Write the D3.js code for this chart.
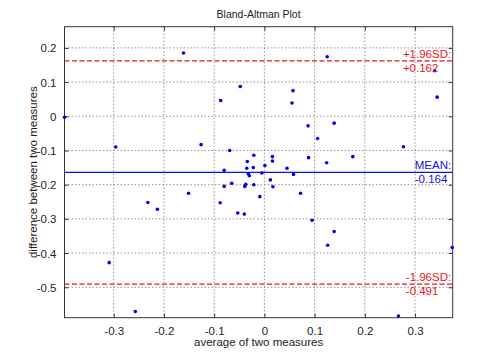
<!DOCTYPE html>
<html>
<head>
<meta charset="utf-8">
<script src="https://cdn.jsdelivr.net/npm/d3@7"></script>
<style>
  body { margin: 0; background: #fff; }
  svg { font-family: "Liberation Sans", Arial, Helvetica, sans-serif; }
</style>
</head>
<body>
<div id="chart"></div>
<script>
// average of the two measures (x) and their difference (y)
var avgValues = [
  -0.161, -0.048, -0.087, -0.398, -0.296, -0.126, -0.069, -0.021, -0.034, -0.080,
  -0.035, -0.022, -0.032, -0.030, -0.005, -0.065, -0.080, -0.037, -0.039, -0.021,
  -0.009, -0.151, -0.232, -0.213, -0.088, -0.053, -0.040, -0.309, -0.257, 0.125,
  0.339, 0.344, 0.057, 0.055, 0.087, 0.139, 0.106, 0.277, 0.001, 0.016,
  0.016, 0.045, 0.088, 0.124, 0.176, 0.058, 0.012, 0.017, 0.072, 0.095,
  0.139, 0.126, 0.374, 0.267
];
var diffValues = [
  0.185, 0.087, 0.046, -0.003, -0.090, -0.083, -0.100, -0.114, -0.132, -0.158,
  -0.152, -0.150, -0.168, -0.174, -0.166, -0.196, -0.205, -0.199, -0.205, -0.200,
  -0.235, -0.225, -0.252, -0.272, -0.253, -0.283, -0.286, -0.428, -0.571, 0.174,
  0.133, 0.056, 0.075, 0.039, -0.028, -0.020, -0.065, -0.089, -0.144, -0.118,
  -0.131, -0.152, -0.121, -0.136, -0.118, -0.170, -0.186, -0.206, -0.225, -0.304,
  -0.337, -0.377, -0.384, -0.584
];

var meanDiff = -0.164;
var upperLoA = 0.162;
var lowerLoA = -0.491;

var xTicks = [-0.3, -0.2, -0.1, 0, 0.1, 0.2, 0.3];
var yTicks = [-0.5, -0.4, -0.3, -0.2, -0.1, 0, 0.1, 0.2];

const svgDimensions = { width: 500, height: 358 };
const margins = { top: 26.7, bottom: 40.3, left: 64.5, right: 47.3 };
const fontSize = 11.5;

var svg = d3.select("#chart").append("svg")
  .attr("width", svgDimensions.width)
  .attr("height", svgDimensions.height);

var scaleX = d3.scaleLinear()
  .domain([-0.398, 0.375])
  .range([margins.left, svgDimensions.width - margins.right]);

var scaleY = d3.scaleLinear()
  .domain([-0.589, 0.262])
  .range([svgDimensions.height - margins.bottom, margins.top]);

var fmt = d => d === 0 ? "0" : d.toFixed(1);
var x0 = scaleX.range()[0], x1 = scaleX.range()[1];
var y0 = scaleY.range()[0], y1 = scaleY.range()[1];

// grid
svg.append("g").selectAll("line")
  .data(xTicks).enter().append("line")
  .attr("x1", d => scaleX(d)).attr("x2", d => scaleX(d))
  .attr("y1", y1).attr("y2", y0)
  .attr("stroke", "#777").attr("stroke-width", 0.8)
  .attr("stroke-dasharray", "1.5,2");
svg.append("g").selectAll("line")
  .data(yTicks).enter().append("line")
  .attr("x1", x0).attr("x2", x1)
  .attr("y1", d => scaleY(d)).attr("y2", d => scaleY(d))
  .attr("stroke", "#777").attr("stroke-width", 0.8)
  .attr("stroke-dasharray", "1.5,2");

// axes, ticks pointing inward
var axisB = d3.axisBottom(scaleX).tickValues(xTicks).tickFormat(fmt).tickSize(-4).tickSizeOuter(0);
var axisT = d3.axisTop(scaleX).tickValues(xTicks).tickFormat("").tickSize(-4).tickSizeOuter(0);
var axisL = d3.axisLeft(scaleY).tickValues(yTicks).tickFormat(fmt).tickSize(-4).tickSizeOuter(0);
var axisR = d3.axisRight(scaleY).tickValues(yTicks).tickFormat("").tickSize(-4).tickSizeOuter(0);

var gB = svg.append("g").attr("transform", "translate(0," + y0 + ")").call(axisB);
var gT = svg.append("g").attr("transform", "translate(0," + y1 + ")").call(axisT);
var gL = svg.append("g").attr("transform", "translate(" + x0 + ",0)").call(axisL);
var gR = svg.append("g").attr("transform", "translate(" + x1 + ",0)").call(axisR);

[gB, gT, gL, gR].forEach(function (g) {
  g.select(".domain").remove();
  g.selectAll(".tick line").attr("stroke", "#333");
  g.selectAll("text").attr("font-family", null).attr("font-size", fontSize).attr("fill", "#222");
});
gB.selectAll(".tick text").attr("y", 17).attr("dy", null);
gL.selectAll(".tick text").attr("x", -8).attr("dy", "0.35em");

// box
svg.append("rect")
  .attr("x", x0).attr("y", y1)
  .attr("width", x1 - x0).attr("height", y0 - y1)
  .attr("fill", "none").attr("stroke", "#333").attr("stroke-width", 1);

// reference lines
function refLine(v, color, dash) {
  svg.append("line")
    .attr("x1", x0).attr("x2", x1)
    .attr("y1", scaleY(v)).attr("y2", scaleY(v))
    .attr("stroke", color).attr("stroke-width", 1.3)
    .attr("stroke-dasharray", dash);
}
refLine(upperLoA, "#e8141b", "5,2.5");
refLine(lowerLoA, "#e8141b", "5,2.5");
refLine(meanDiff, "#1010e0", null);

// points
svg.append("g").selectAll("circle")
  .data(avgValues.map((a, i) => [a, diffValues[i]]))
  .enter().append("circle")
  .attr("cx", d => scaleX(d[0]))
  .attr("cy", d => scaleY(d[1]))
  .attr("r", 1.8)
  .attr("fill", "#0000e6");

// labels at the right of each line
function lineLabel(v, top, bottom, color) {
  var g = svg.append("g").attr("fill", color).attr("font-size", fontSize);
  var t1 = g.append("text").attr("y", scaleY(v) - 3).text(top);
  var t2 = g.append("text").attr("y", scaleY(v) + 11).text(bottom);
  var w = Math.max(t1.node().getComputedTextLength(), t2.node().getComputedTextLength());
  g.selectAll("text").attr("x", x1 - w - 1.5);
}
lineLabel(upperLoA, "+1.96SD:", "+" + upperLoA.toFixed(3), "#e8141b");
lineLabel(meanDiff, "MEAN:", meanDiff.toFixed(3), "#1010e0");
lineLabel(lowerLoA, "-1.96SD:", lowerLoA.toFixed(3), "#e8141b");

// title and axis labels
svg.append("text")
  .attr("x", (x0 + x1) / 2).attr("y", 18)
  .attr("text-anchor", "middle").attr("font-size", 10.5).attr("fill", "#222")
  .text("Bland-Altman Plot");
svg.append("text")
  .attr("x", (x0 + x1) / 2).attr("y", 345.5)
  .attr("text-anchor", "middle").attr("font-size", fontSize).attr("fill", "#222")
  .text("average of two measures");
svg.append("text")
  .attr("transform", "translate(37.3," + ((y0 + y1) / 2) + ") rotate(-90)")
  .attr("text-anchor", "middle").attr("font-size", fontSize).attr("fill", "#222")
  .text("difference between two measures");
</script>
</body>
</html>
